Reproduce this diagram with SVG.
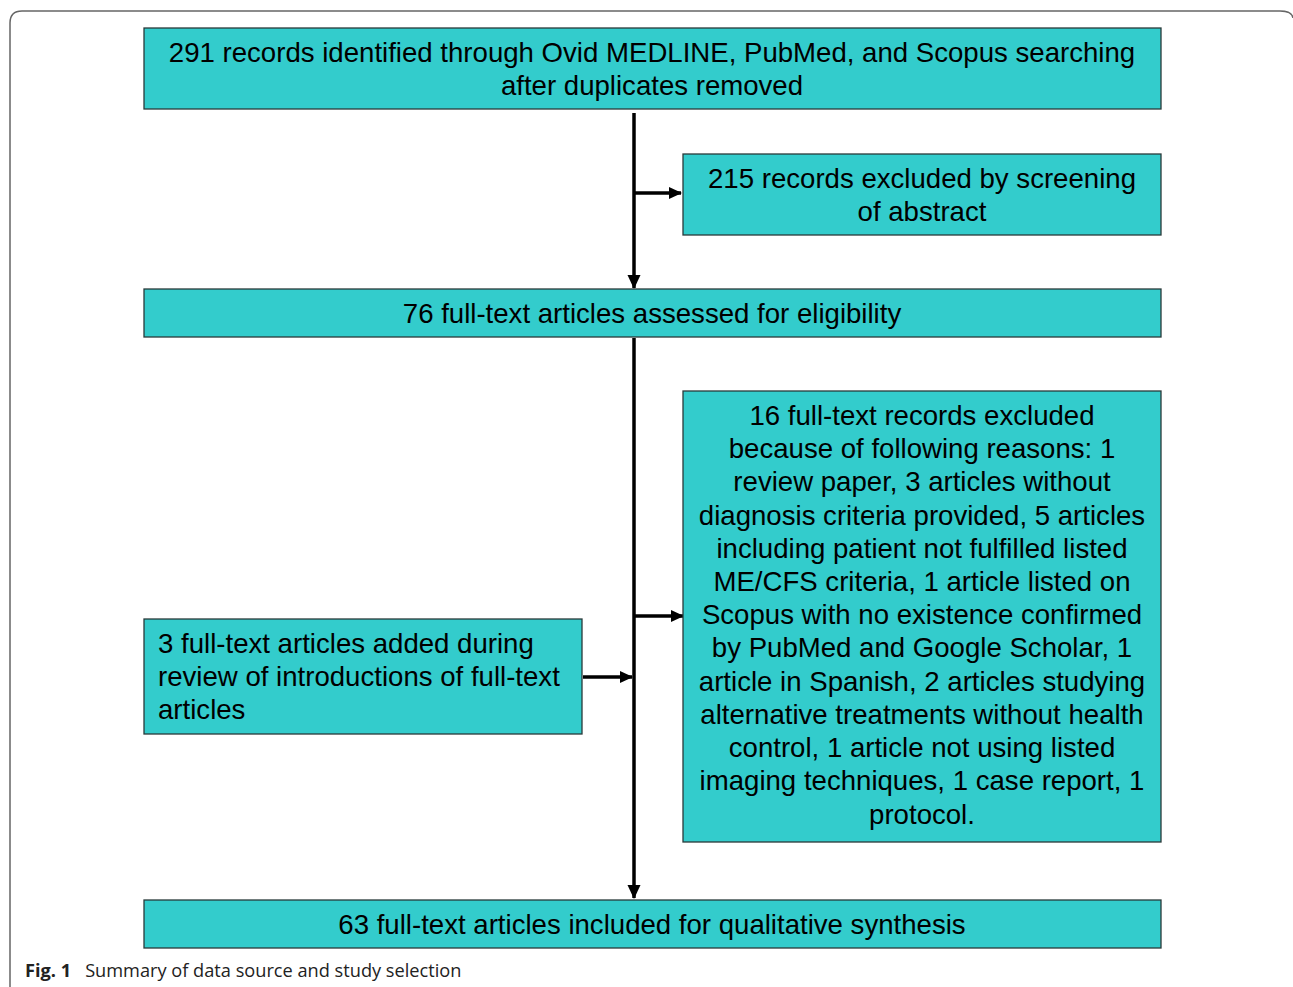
<svg xmlns="http://www.w3.org/2000/svg" width="1293" height="987" viewBox="0 0 1293 987">
  <style>
    .box { fill: #33CCCC; stroke: #2a3a3a; stroke-width: 1.3; }
    .t { font-family: "Liberation Sans", Arial, sans-serif; font-size: 27.6px; fill: #000; }
    .c { text-anchor: middle; }
    .ln { stroke: #000; stroke-width: 3.5; fill: none; }
    .cap { font-family: "Open Sans", "Noto Sans", sans-serif; font-size: 18.2px; fill: #222; }
  </style>
  <defs>
    <marker id="ah" markerWidth="13" markerHeight="13" refX="12" refY="6.5" orient="auto" markerUnits="userSpaceOnUse" viewBox="0 0 13 13">
      <path d="M0,0.5 L13,6.5 L0,12.5 z" fill="#000"/>
    </marker>
    <marker id="ahs" markerWidth="14" markerHeight="14" refX="13" refY="7" orient="auto" markerUnits="userSpaceOnUse" viewBox="0 0 14 14">
      <path d="M0,0.5 L14,7 L0,13.5 z" fill="#000"/>
    </marker>
  </defs>
  <rect width="1293" height="987" fill="#fff"/>
  <!-- outer frame -->
  <path d="M10,1000 L10,23 Q10,11 22,11 L1280,11 Q1292,11 1293,18" fill="none" stroke="#666" stroke-width="1.5"/>

  <g id="connectors">
    <line class="ln" x1="634" y1="113" x2="634" y2="288" marker-end="url(#ahs)"/>
    <line class="ln" x1="634" y1="193" x2="681" y2="193" stroke-width="2.5" marker-end="url(#ah)"/>
    <line class="ln" x1="634" y1="338" x2="634" y2="898" marker-end="url(#ahs)"/>
    <line class="ln" x1="634" y1="616" x2="683" y2="616" stroke-width="2.5" marker-end="url(#ah)"/>
    <line class="ln" x1="583" y1="677" x2="632" y2="677" stroke-width="2.5" marker-end="url(#ah)"/>
  </g>

  <g id="n-identified">
    <rect class="box" x="144" y="28" width="1017" height="81"/>
    <text class="t c" x="652" y="62">291 records identified through Ovid MEDLINE, PubMed, and Scopus searching</text>
    <text class="t c" x="652" y="95">after duplicates removed</text>
  </g>

  <g id="n-excluded-abstract">
    <rect class="box" x="683" y="154" width="478" height="81"/>
    <text class="t c" x="922" y="188">215 records excluded by screening</text>
    <text class="t c" x="922" y="221">of abstract</text>
  </g>

  <g id="n-assessed">
    <rect class="box" x="144" y="289" width="1017" height="48"/>
    <text class="t c" x="652" y="323">76 full-text articles assessed for eligibility</text>
  </g>

  <g id="n-excluded-fulltext">
    <rect class="box" x="683" y="391" width="478" height="451"/>
    <text class="t c" x="922" y="425">16 full-text records excluded</text>
    <text class="t c" x="922" y="458">because of following reasons: 1</text>
    <text class="t c" x="922" y="491">review paper, 3 articles without</text>
    <text class="t c" x="922" y="525">diagnosis criteria provided, 5 articles</text>
    <text class="t c" x="922" y="558">including patient not fulfilled listed</text>
    <text class="t c" x="922" y="591">ME/CFS criteria, 1 article listed on</text>
    <text class="t c" x="922" y="624">Scopus with no existence confirmed</text>
    <text class="t c" x="922" y="657">by PubMed and Google Scholar, 1</text>
    <text class="t c" x="922" y="691">article in Spanish, 2 articles studying</text>
    <text class="t c" x="922" y="724">alternative treatments without health</text>
    <text class="t c" x="922" y="757">control, 1 article not using listed</text>
    <text class="t c" x="922" y="790">imaging techniques, 1 case report, 1</text>
    <text class="t c" x="922" y="824">protocol.</text>
  </g>

  <g id="n-added">
    <rect class="box" x="144" y="619" width="438" height="115"/>
    <text class="t" x="158" y="653">3 full-text articles added during</text>
    <text class="t" x="158" y="686">review of introductions of full-text</text>
    <text class="t" x="158" y="719">articles</text>
  </g>

  <g id="n-included">
    <rect class="box" x="144" y="900" width="1017" height="48"/>
    <text class="t c" x="652" y="934">63 full-text articles included for qualitative synthesis</text>
  </g>

  <text class="cap" x="25" y="977"><tspan font-weight="bold">Fig. 1</tspan><tspan dx="14">Summary of data source and study selection</tspan></text>
</svg>
